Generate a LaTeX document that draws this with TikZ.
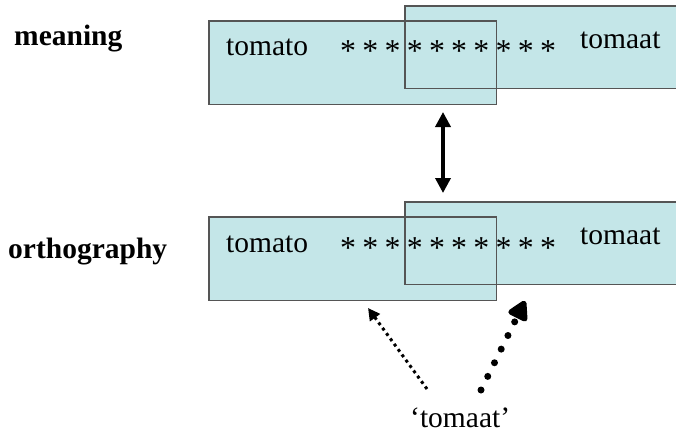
\documentclass[tikz,border=0pt]{standalone}
\usepackage{fontspec}
\setmainfont{Liberation Serif}
\usetikzlibrary{arrows.meta}
\definecolor{boxfill}{RGB}{196,230,232}
\definecolor{boxline}{RGB}{85,85,85}
\tikzset{
  boxshape/.style={rectangle, inner sep=0pt, fill=boxfill, anchor=north west},
  boxedge/.style={draw=boxline, line width=1.1pt},
  lbl/.style={inner sep=0pt, anchor=base west, font=\fontsize{29.5}{35}\selectfont},
  blbl/.style={lbl, font=\fontsize{29.5}{35}\selectfont\bfseries},
  dblarrow/.style={line width=3.5pt, {Triangle[length=15pt,width=15pt]}-{Triangle[length=15pt,width=15pt]}},
  thindots/.style={line width=3pt, dash pattern=on 3pt off 3.6pt, -{Triangle[length=12pt,width=12pt]}},
  thickdots/.style={line width=7pt, line cap=round, dash pattern=on 0pt off 15.2pt, -{Triangle[length=22pt,width=23pt,round]}}
}
\newcommand{\onestar}{\makebox[22.2pt][l]{\raisebox{-6.5pt}{\scalebox{1.08}{*}}}}
\newcommand{\stars}{\onestar\onestar\onestar\onestar\onestar\onestar\onestar\onestar\onestar\onestar}
\begin{document}
\begin{tikzpicture}[x=1pt,y=-1pt]
\clip (0,0) rectangle (676,439);
\fill[white] (0,0) rectangle (676,439);
% box fills
\node[boxshape, minimum width=287pt, minimum height=83pt] (mL) at (209,21) {};
\node[boxshape, minimum width=290pt, minimum height=82pt] (mR) at (405,6) {};
\node[boxshape, minimum width=287pt, minimum height=83pt] (oL) at (209,217) {};
\node[boxshape, minimum width=290pt, minimum height=82pt] (oR) at (405,202) {};
% box borders
\draw[boxedge] (mL.north west) rectangle (mL.south east);
\draw[boxedge] (mR.north west) rectangle (mR.south east);
\draw[boxedge] (oL.north west) rectangle (oL.south east);
\draw[boxedge] (oR.north west) rectangle (oR.south east);
% labels
\node[blbl] (meaning) at (14,45) {meaning};
\node[blbl] (ortho) at (8,258) {orthography};
\node[lbl] (mtomato) at (226,55) {tomato};
\node[lbl] (mstars) at (340,55) {\stars};
\node[lbl] (mtomaat) at (580,48) {tomaat};
\node[lbl] (otomato) at (226,252) {tomato};
\node[lbl] (ostars) at (340,252) {\stars};
\node[lbl] (otomaat) at (580,244) {tomaat};
\node[lbl] (word) at (410,427) {‘tomaat’};
% double arrow
\coordinate (d1) at (443,112);
\coordinate (d2) at (443,193);
\draw[dblarrow] (d1) -- (d2);
% dotted arrows
\coordinate (l1) at (427,389);
\coordinate (l2) at (368,308);
\draw[thindots] (l1) -- (l2);
\coordinate (r1) at (481,390);
\coordinate (r2) at (525,301);
\draw[thickdots] (r1) -- (r2);
\end{tikzpicture}
\end{document}
